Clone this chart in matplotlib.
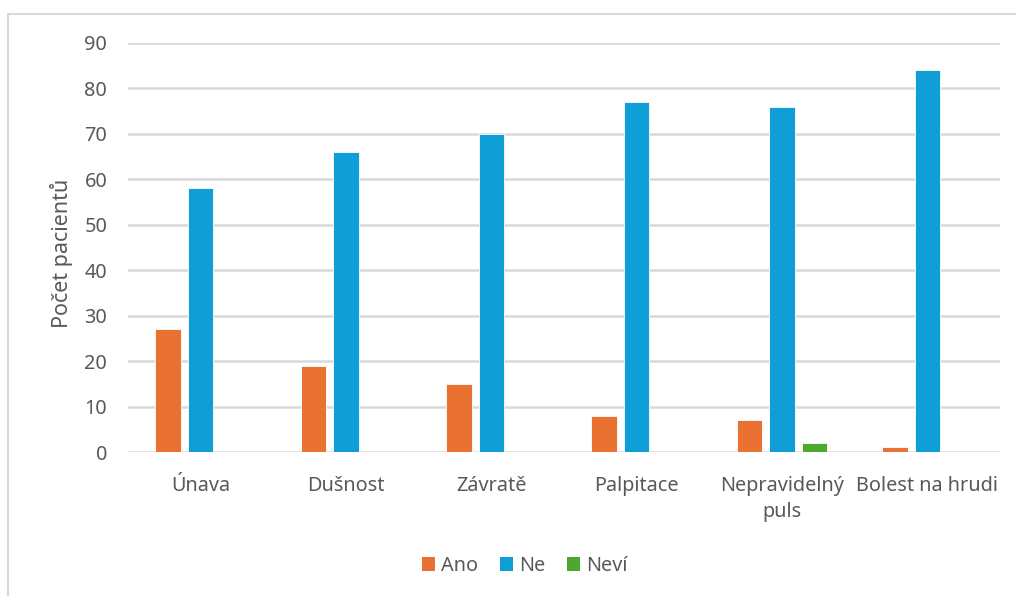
import matplotlib
matplotlib.use("Agg")
import matplotlib.pyplot as plt
from matplotlib.patches import Rectangle, Patch
import numpy as np

categories = ["Únava", "Dušnost", "Závratě", "Palpitace", "Nepravidelný\npuls", "Bolest na hrudi"]
ano = [27, 19, 15, 8, 7, 1]
ne = [58, 66, 70, 77, 76, 84]
nevi = [0, 0, 0, 0, 2, 0]
series_names = ["Ano", "Ne", "Neví"]
colors = ["#E97132", "#0F9ED5", "#4EA72E"]
yticks = [0, 10, 20, 30, 40, 50, 60, 70, 80, 90]

text_color = "#595959"
grid_color = "#D9D9D9"
plt.rcParams["font.family"] = ["Noto Sans", "DejaVu Sans"]
fs = 14.3

W, H = 1016, 596
fig = plt.figure(figsize=(W / 100, H / 100), dpi=100)
ax = fig.add_axes([128 / W, 144 / H, (1000 - 128) / W, (553 - 144) / H])

x = np.arange(len(categories))
step = 0.224
width = 0.176
for i, (vals, name, col) in enumerate(zip([ano, ne, nevi], series_names, colors)):
    ax.bar(x + (i - 1) * step, vals, width=width, color=col, edgecolor="white",
           linewidth=0.6, label=name, zorder=3)

ax.set_xlim(-0.5, len(categories) - 0.5)
ax.set_ylim(0, 90)
ax.set_yticks(yticks)
ax.set_yticklabels([str(v) for v in yticks], fontsize=fs, color=text_color)
ax.set_xticks(x)
ax.set_xticklabels(categories, fontsize=fs, color=text_color, linespacing=1.45)
ax.tick_params(axis="both", length=0)
ax.tick_params(axis="y", pad=15)
ax.tick_params(axis="x", pad=17)
ax.yaxis.grid(True, color=grid_color, linewidth=1.8, zorder=0)
ax.set_axisbelow(True)
for s in ax.spines.values():
    s.set_visible(False)

ax.set_ylabel("Počet pacientů", fontsize=15.5, color=text_color)
ax.yaxis.set_label_coords(-55 / 872, 0.485)

handles = [Patch(facecolor=c, edgecolor="none") for c in colors]
fig.legend(handles, series_names, loc="center", bbox_to_anchor=(525 / W, 1 - 566 / H),
           ncol=3, frameon=False, fontsize=fs, labelcolor=text_color,
           handlelength=0.65, handleheight=0.65, handletextpad=0.3, columnspacing=1.1)

fig.patches.append(Rectangle((8 / W, -0.1), 1.2, 1 - 14 / H + 0.1, transform=fig.transFigure,
                             facecolor="none", edgecolor="#D9D9D9", linewidth=1.5))

fig.savefig("out.png", dpi=100, facecolor="white")
